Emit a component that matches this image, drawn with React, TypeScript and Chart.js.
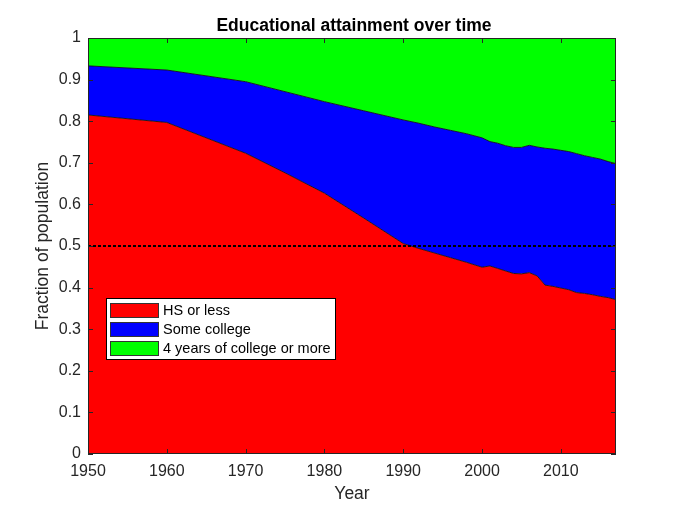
import React, { useEffect, useRef } from "react";
import { Chart, registerables } from "chart.js";

Chart.register(...registerables);

// years
const years = [
  1950, 1960, 1970, 1975, 1980, 1985, 1990, 1992, 1994, 1996, 1998, 2000, 2001, 2002, 2003, 2004,
  2005, 2006, 2007, 2008, 2009, 2010, 2011, 2012, 2013, 2014, 2015, 2016, 2017,
];

const hsOrLess = [
  0.815, 0.797, 0.723, 0.676, 0.627, 0.567, 0.506, 0.494, 0.483, 0.472, 0.461, 0.449, 0.452, 0.446,
  0.44, 0.434, 0.433, 0.436, 0.428, 0.406, 0.403, 0.399, 0.395, 0.388, 0.386, 0.383, 0.379, 0.376,
  0.371,
];

const someCollege = [
  0.118, 0.126, 0.172, 0.195, 0.22, 0.258, 0.297, 0.301, 0.303, 0.306, 0.309, 0.311, 0.299, 0.301,
  0.301, 0.303, 0.304, 0.306, 0.31, 0.329, 0.33, 0.331, 0.332, 0.334, 0.331, 0.33, 0.33, 0.327,
  0.327,
];

const fourYears = [
  0.067, 0.077, 0.105, 0.129, 0.153, 0.175, 0.197, 0.205, 0.214, 0.222, 0.23, 0.24, 0.249, 0.253,
  0.259, 0.263, 0.263, 0.258, 0.262, 0.265, 0.267, 0.27, 0.273, 0.278, 0.283, 0.287, 0.291, 0.297,
  0.302,
];

const seriesLabels = ["HS or less", "Some college", "4 years of college or more"];
const seriesColors = ["#ff0000", "#0000ff", "#00ff00"];

const xTicks = [1950, 1960, 1970, 1980, 1990, 2000, 2010];
const yTicks = [0, 0.1, 0.2, 0.3, 0.4, 0.5, 0.6, 0.7, 0.8, 0.9, 1];
const refLevel = 0.5;

const FONT = "'Liberation Sans', Arial, Helvetica, sans-serif";
const AXIS_COLOR = "#262626";

const toPoints = (vals: number[]) => years.map((x, i) => ({ x, y: vals[i] }));

// frame, inward ticks, title and legend drawn the matlab way
const matlabAxes = {
  id: "matlabAxes",
  afterDatasetsDraw(chart: any) {
    const { ctx, chartArea: a, scales } = chart;
    ctx.save();
    ctx.strokeStyle = AXIS_COLOR;
    ctx.lineWidth = 1;
    ctx.strokeRect(a.left + 0.5, a.top + 0.5, a.right - a.left - 1, a.bottom - a.top - 1);
    const len = 5;
    ctx.beginPath();
    xTicks.forEach((t) => {
      const px = Math.round(scales.x.getPixelForValue(t)) + 0.5;
      ctx.moveTo(px, a.bottom);
      ctx.lineTo(px, a.bottom - len);
      ctx.moveTo(px, a.top);
      ctx.lineTo(px, a.top + len);
    });
    yTicks.forEach((t) => {
      const py = Math.round(scales.y.getPixelForValue(t)) + 0.5;
      ctx.moveTo(a.left, py);
      ctx.lineTo(a.left + len, py);
      ctx.moveTo(a.right, py);
      ctx.lineTo(a.right - len, py);
    });
    ctx.stroke();

    // title
    ctx.fillStyle = "#000";
    ctx.font = `bold 17.5px ${FONT}`;
    ctx.textAlign = "center";
    ctx.textBaseline = "middle";
    ctx.fillText("Educational attainment over time", (a.left + a.right) / 2 + 2, 26);

    // legend box
    const bx = 106, by = 298, bw = 229, bh = 61;
    ctx.fillStyle = "#fff";
    ctx.fillRect(bx, by, bw, bh);
    ctx.strokeStyle = "#000";
    ctx.lineWidth = 1;
    ctx.strokeRect(bx + 0.5, by + 0.5, bw, bh);
    ctx.font = `14.5px ${FONT}`;
    ctx.textAlign = "left";
    chart.data.datasets.slice(0, 3).forEach((ds: any, i: number) => {
      const rowY = by + 5 + i * 19;
      ctx.fillStyle = ds.backgroundColor;
      ctx.fillRect(110, rowY, 48, 14);
      ctx.strokeStyle = "#333";
      ctx.strokeRect(110.5, rowY + 0.5, 48, 14);
      ctx.fillStyle = "#000";
      ctx.fillText(ds.label, 163, rowY + 7.5);
    });
    ctx.restore();
  },
};

export default function App() {
  const canvasRef = useRef<HTMLCanvasElement | null>(null);

  useEffect(() => {
    document.body.style.margin = "0";
    if (!canvasRef.current) return;

    const areaSeries = [hsOrLess, someCollege, fourYears].map((vals, i) => ({
      label: seriesLabels[i],
      data: toPoints(vals),
      backgroundColor: seriesColors[i],
      borderColor: "rgba(20,20,20,0.9)",
      borderWidth: 1,
      pointRadius: 0,
      fill: i === 0 ? "origin" : "-1",
      stack: "edu",
      tension: 0,
    }));

    const chart = new Chart(canvasRef.current, {
      type: "line",
      data: {
        datasets: [
          ...areaSeries,
          {
            label: "ref",
            data: [
              { x: years[0], y: refLevel },
              { x: years[years.length - 1], y: refLevel },
            ],
            borderColor: "#000",
            borderWidth: 2,
            borderDash: [3, 2],
            pointRadius: 0,
            fill: false,
            stack: "ref",
            order: -1,
          },
        ],
      } as any,
      options: {
        animation: false,
        responsive: true,
        maintainAspectRatio: false,
        layout: { padding: { top: 38, right: 64, left: 0, bottom: 0 } },
        plugins: {
          legend: { display: false },
          title: { display: false },
          tooltip: { enabled: false },
        },
        scales: {
          x: {
            type: "linear",
            min: 1950,
            max: 2017,
            grid: { display: false, drawTicks: false },
            border: { display: false },
            afterBuildTicks: (s: any) => {
              s.ticks = xTicks.map((v) => ({ value: v }));
            },
            afterFit: (s: any) => {
              s.height = 56;
            },
            ticks: {
              color: AXIS_COLOR,
              font: { family: FONT, size: 16 },
              padding: 8,
              maxRotation: 0,
              callback: (v: any) => String(v),
            },
            title: {
              display: true,
              text: "Year",
              color: AXIS_COLOR,
              font: { family: FONT, size: 17.5 },
              padding: { top: 0, bottom: 5 },
            },
          },
          y: {
            stacked: true,
            min: 0,
            max: 1,
            grid: { display: false, drawTicks: false },
            border: { display: false },
            afterBuildTicks: (s: any) => {
              s.ticks = yTicks.map((v) => ({ value: v }));
            },
            afterFit: (s: any) => {
              s.width = 88;
            },
            ticks: {
              color: AXIS_COLOR,
              font: { family: FONT, size: 16 },
              padding: 7,
              callback: (v: any) => String(Math.round(Number(v) * 10) / 10),
            },
            title: {
              display: true,
              text: "Fraction of population",
              color: AXIS_COLOR,
              font: { family: FONT, size: 17.5 },
              padding: { top: 33, bottom: 0 },
            },
          },
        },
      },
      plugins: [matlabAxes],
    });

    return () => {
      chart.destroy();
    };
  }, []);

  return (
    <div style={{ width: 680, height: 510, position: "relative", background: "#fff" }}>
      <canvas ref={canvasRef} />
    </div>
  );
}
